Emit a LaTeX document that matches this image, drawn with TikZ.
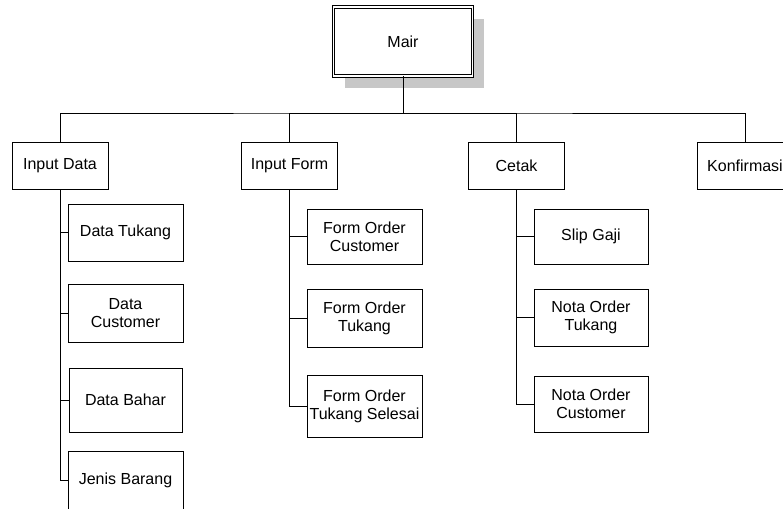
\documentclass[tikz,border=0pt]{standalone}
\usepackage{fontspec}
\setmainfont{Liberation Sans}
\usetikzlibrary{shadows}
\begin{document}
\begin{tikzpicture}[x=1pt,y=-1pt,
  every node/.style={inner sep=0pt, align=center, font=\fontsize{16}{18}\selectfont},
  box/.style={draw=black, line width=0.9pt, fill=white},
  mainbox/.style={draw=black, line width=0.8pt, double=white, double distance=1.6pt, fill=white,
     drop shadow={shadow xshift=11pt, shadow yshift=-12pt, fill=black!22, opacity=1}},
  link/.style={draw=black, line width=0.9pt}]
\useasboundingbox (0,0) rectangle (783,508);
\clip (0,0) rectangle (783,508);
% top
\node[mainbox, minimum width=139pt, minimum height=69pt] (main) at (403,41.5) {Mair};
% level 1
\node[box, minimum width=96pt, minimum height=47pt] (idata) at (60,165.5) {Input Data};
\node[box, minimum width=96pt, minimum height=47pt] (iform) at (289.5,165.5) {Input Form};
\node[box, minimum width=96pt, minimum height=47pt] (cetak) at (516.5,165.5) {Cetak};
\node[box, minimum width=96pt, minimum height=47pt] (konf) at (745,165.5) {Konfirmasi};
% Input Data children
\node[box, minimum width=115pt, minimum height=57pt] (dtukang) at (125.5,232.5) {Data Tukang};
\node[box, minimum width=115pt, minimum height=58pt] (dcust) at (125.5,313) {Data\\Customer};
\node[box, minimum width=113pt, minimum height=64pt] (dbahan) at (125.5,400) {Data Bahar};
\node[box, minimum width=115pt, minimum height=58pt] (jenis) at (125.5,480) {Jenis Barang};
% Input Form children
\node[box, minimum width=115pt, minimum height=55pt] (focust) at (364.5,236.5) {Form Order\\Customer};
\node[box, minimum width=115pt, minimum height=58pt] (fotukang) at (364.5,318) {Form Order\\Tukang};
\node[box, minimum width=115pt, minimum height=62pt] (foselesai) at (364.5,406) {Form Order\\Tukang Selesai};
% Cetak children
\node[box, minimum width=114pt, minimum height=55pt] (slip) at (591,236.5) {Slip Gaji};
\node[box, minimum width=114pt, minimum height=57pt] (notatukang) at (591,317.5) {Nota Order\\Tukang};
\node[box, minimum width=114pt, minimum height=56pt] (notacust) at (591,404) {Nota Order\\Customer};
% connectors
\coordinate (bus) at (403,113);
\draw[link] (main.south) -- (bus);
\draw[link] (idata.north) |- (bus) -| (konf.north);
\draw[link] (iform.north) |- (bus);
\draw[link] (cetak.north) |- (bus);
\draw[link] (idata.south) |- (dtukang.west);
\draw[link] (idata.south) |- (dcust.west);
\draw[link] (idata.south) |- (dbahan.west);
\draw[link] (idata.south) |- (jenis.west);
\draw[link] (iform.south) |- (focust.west);
\draw[link] (iform.south) |- (fotukang.west);
\draw[link] (iform.south) |- (foselesai.west);
\draw[link] (cetak.south) |- (slip.west);
\draw[link] (cetak.south) |- (notatukang.west);
\draw[link] (cetak.south) |- (notacust.west);
\end{tikzpicture}
\end{document}
